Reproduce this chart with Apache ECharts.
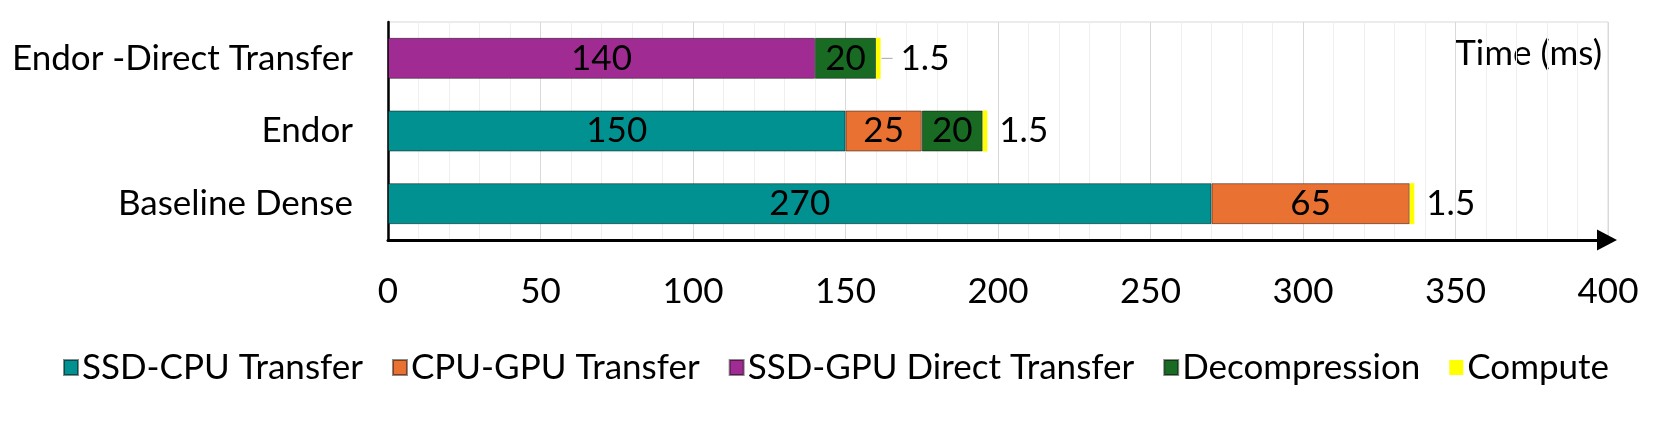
<!DOCTYPE html>
<html>
<head>
<meta charset="utf-8">
<script src="https://cdn.jsdelivr.net/npm/echarts@6/dist/echarts.min.js"></script>
<style>
html,body{margin:0;padding:0;background:#fff;}
#chart{width:1661px;height:422px;}
</style>
</head>
<body>
<div id="chart"></div>
<script>
// Categories (bottom to top on the category axis)
const categories = ['Baseline Dense', 'Endor', 'Endor -Direct Transfer'];
// Series values (ms), '-' = not present
const ssdCpu = [270, 150, '-'];
const cpuGpu = [65, 25, '-'];
const ssdGpuDirect = ['-', '-', 140];
const decompression = ['-', 20, 20];
const compute = [1.5, 1.5, 1.5];
const seriesNames = ['SSD-CPU Transfer', 'CPU-GPU Transfer', 'SSD-GPU Direct Transfer', 'Decompression', 'Compute'];
const xTicks = [0, 50, 100, 150, 200, 250, 300, 350, 400];

const FONT = 'Lato, "Open Sans", sans-serif';
const FS = 35;
const colors = ['#009190', '#E97132', '#A02B93', '#196B24', '#FFFF00'];

function barSeries(name, data, color, extra) {
  return Object.assign({
    name: name,
    type: 'bar',
    stack: 'total',
    barWidth: 41,
    data: data,
    itemStyle: { color: color, borderColor: 'rgba(0,0,0,0.45)', borderWidth: 1 },
    label: {
      show: true, position: 'inside', color: '#000',
      fontFamily: FONT, fontSize: FS
    },
    emphasis: { disabled: true }
  }, extra || {});
}

const computeData = compute.map((v, i) => {
  if (i === 2) {
    return { value: v, label: { formatter: '{line|}{v|{c}}', distance: 1 } };
  }
  return { value: v };
});

const chart = echarts.init(document.getElementById('chart'), null, { renderer: 'canvas' });
chart.setOption({
  animation: false,
  textStyle: { fontFamily: FONT },
  grid: {
    left: 388, right: 53, top: 22, bottom: 182,
    show: true, borderColor: '#d9d9d9', borderWidth: 1
  },
  legend: {
    data: seriesNames,
    left: 58, top: 345,
    icon: 'rect', itemWidth: 14, itemHeight: 15, itemGap: 29,
    textStyle: { fontFamily: FONT, fontSize: FS, color: '#000', padding: [0, 0, 0, -1] }
  },
  xAxis: {
    type: 'value', min: xTicks[0], max: xTicks[xTicks.length - 1], interval: 50,
    axisLine: { show: true, onZero: false, lineStyle: { color: '#000', width: 3 },
      symbol: ['none', 'triangle'], symbolSize: [21, 20], symbolOffset: [0, -1] },
    axisTick: { show: false },
    axisLabel: { color: '#000', fontFamily: FONT, fontSize: FS, margin: 34 },
    splitLine: { show: true, lineStyle: { color: '#d9d9d9', width: 1 } },
    minorTick: { show: false, splitNumber: 5 },
    minorSplitLine: { show: true, lineStyle: { color: '#efefef', width: 1 } }
  },
  yAxis: {
    type: 'category', data: categories,
    axisLine: { show: true, lineStyle: { color: '#000', width: 2.5 } },
    axisTick: { show: false },
    axisLabel: { color: '#000', fontFamily: FONT, fontSize: FS, margin: 35 }
  },
  graphic: [{
    type: 'text', right: 1661 - 1602, top: 36,
    style: { text: 'Time (ms)', fill: '#000', font: FS + 'px ' + FONT }
  }],
  series: [
    barSeries(seriesNames[0], ssdCpu, colors[0]),
    barSeries(seriesNames[1], cpuGpu, colors[1]),
    barSeries(seriesNames[2], ssdGpuDirect, colors[2]),
    barSeries(seriesNames[3], decompression, colors[3]),
    barSeries(seriesNames[4], computeData, colors[4], {
      itemStyle: { color: colors[4], borderWidth: 0 },
      label: {
        show: true, position: 'right', distance: 12, color: '#000',
        fontFamily: FONT, fontSize: FS, formatter: '{c}',
        rich: {
          line: { width: 11, height: 1, backgroundColor: '#a6a6a6' },
          v: { fontFamily: FONT, fontSize: FS, color: '#000', padding: [0, 0, 0, 8] }
        }
      }
    })
  ]
});
</script>
</body>
</html>
